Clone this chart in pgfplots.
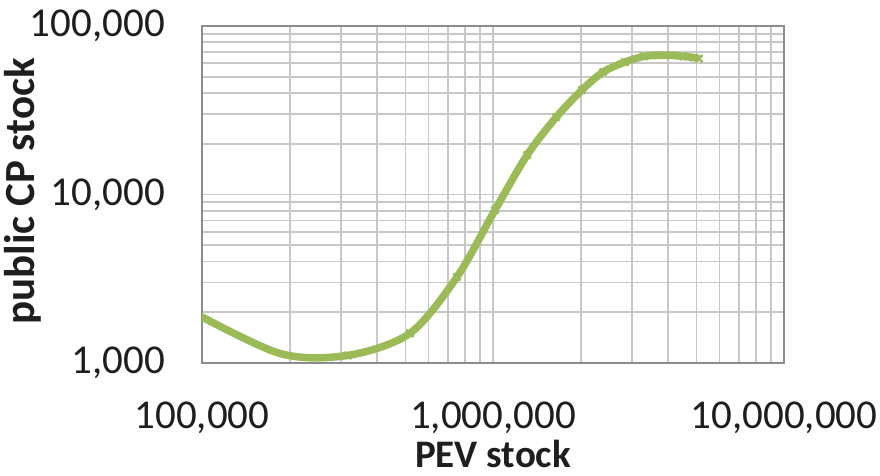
\documentclass[border=0pt]{standalone}
\usepackage{fontspec}
\setmainfont{Carlito}
\usepackage{pgfplots}
\pgfplotsset{compat=1.18}

\definecolor{linegreen}{RGB}{155,187,89}
\definecolor{gridgray}{RGB}{200,200,200}
\definecolor{framegray}{RGB}{140,140,140}
\definecolor{txt}{RGB}{30,30,30}

\begin{document}
\begin{tikzpicture}
\begin{axis}[
  at={(0,0)}, anchor=south west,
  scale only axis, width=582pt, height=337pt,
  xmode=log, ymode=log,
  xmin=1e5, xmax=1e7, ymin=1e3, ymax=1e5,
  font=\fontsize{39}{46}\selectfont,
  tick label style={font=\fontsize{41}{48}\selectfont},
  axis line style={framegray, line width=2.2pt},
  grid=both,
  major grid style={gridgray, line width=1.8pt},
  minor grid style={gridgray, line width=1.8pt},
  major tick length=0pt, minor tick length=0pt,
  xtick={1e5,1e6,1e7},
  xticklabels={{100,000},{1,000,000},{10,000,000}},
  ytick={1e3,1e4,1e5},
  yticklabels={{1,000},{10,000},{100,000}},
  xticklabel style={inner sep=0pt, yshift=-39pt, text=txt},
  yticklabel style={inner sep=0pt, xshift=-37pt, text=txt},
  xlabel={\textbf{PEV stock}},
  ylabel={\textbf{public CP stock}},
  xlabel style={at={(axis description cs:0.5,0)}, anchor=north, inner sep=0pt, yshift=-77pt, text=txt},
  ylabel style={at={(axis description cs:0,0.5)}, anchor=base, inner sep=0pt, yshift=168pt, xshift=3pt, text=txt,
    font=\fontsize{43}{50}\selectfont},
  clip=true,
]
\addplot[linegreen, line width=7.5pt, smooth, tension=0.5,
  mark=x, mark size=5pt, mark indices={2,...,17},
  mark options={line width=2.5pt, solid}] coordinates {
  (80000,2300)
  (182000,1150)
  (317000,1110)
  (518000,1500)
  (752000,3240)
  (1016000,8090)
  (1310000,17150)
  (1650000,28800)
  (2020000,41700)
  (2390000,53300)
  (2840000,61100)
  (3300000,66000)
  (3700000,67000)
  (4100000,67000)
  (4500000,66000)
  (4900000,65000)
  (5100000,64000)
};
\end{axis}
\pgfresetboundingbox
\path (-202pt,-113pt) rectangle (678pt,363pt);
\end{tikzpicture}
\end{document}
